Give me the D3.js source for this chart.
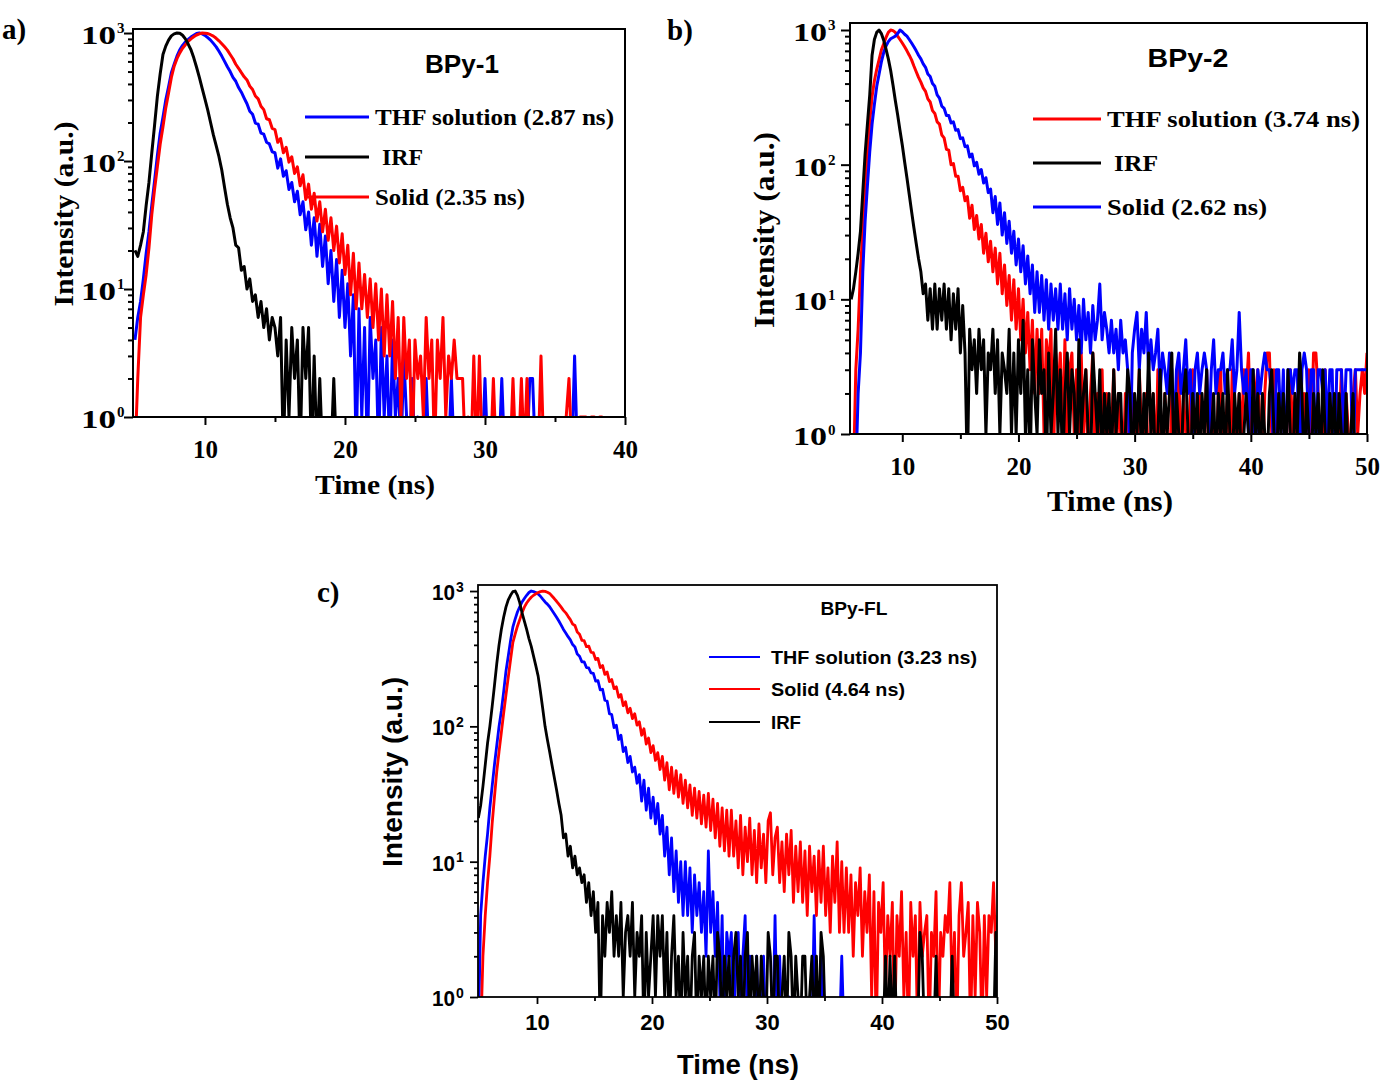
<!DOCTYPE html>
<html>
<head>
<meta charset="utf-8">
<title>Fluorescence decay of BPy-1, BPy-2 and BPy-FL</title>
<script src="https://cdn.jsdelivr.net/npm/d3@7"></script>
<style>
  body { margin: 0; background: #fff; }
  svg { display: block; }
</style>
</head>
<body>
<svg id="chart" width="1385" height="1082"></svg>
<script>
// photon counts, one value per 0.2 ns channel
var channelWidth = 0.2;

// a) BPy-1, first channel at 5.0 ns (one row = 2 ns)
var bpy1Start = 5.0;
var bpy1Thf = [
  4, 6, 8, 12, 19, 28, 45, 70, 110, 165,
  220, 300, 380, 490, 570, 660, 740, 800, 850, 890,
  930, 960, 990, 1000, 985, 960, 920, 880, 830, 780,
  720, 660, 600, 545, 500, 450, 420, 375, 345, 310,
  280, 245, 232, 198, 194, 165, 162, 140, 136, 118,
  116, 88, 104, 76, 84, 60, 68, 48, 58, 38,
  48, 29, 40, 22, 36, 18, 32, 15, 26, 11,
  20, 8, 17, 6, 14, 5, 11, 3, 9, 0,
  7, 1, 5, 0, 6, 2, 4, 0, 5, 1,
  3, 0, 4, 1, 2, 0, 3, 1, 0, 2,
  0, 1, 0, 0, 2, 0, 0, 1, 0, 0,
  0, 0, 0, 2, 0, 0, 0, 0, 0, 0,
  0, 0, 0, 0, 0, 2, 0, 0, 0, 0,
  0, 2, 0, 0, 0, 0, 0, 0, 0, 0,
  0, 2, 2, 0, 0, 0, 0, 0, 0, 0,
  0, 0, 0, 0, 0, 0, 0, 3, 0, 0,
  0, 0, 0, 0, 0, 0, 0, 0
];
var bpy1Solid = [
  0, 2, 6, 9, 13, 21, 38, 60, 90, 135,
  185, 260, 340, 450, 550, 630, 700, 760, 810, 860,
  900, 935, 965, 985, 1000, 995, 990, 970, 945, 910,
  870, 825, 780, 735, 680, 630, 570, 530, 490, 455,
  430, 385, 362, 322, 306, 268, 252, 214, 210, 180,
  176, 140, 150, 116, 128, 98, 108, 80, 90, 64,
  78, 50, 66, 42, 56, 34, 48, 28, 42, 24,
  36, 20, 31, 16, 27, 13, 22, 9, 19, 7,
  16, 7, 13, 6, 12, 5, 11, 4, 10, 3,
  9, 3, 8, 2, 6, 1, 6, 2, 4, 0,
  4, 2, 3, 1, 6, 2, 4, 0, 4, 2,
  6, 1, 3, 2, 4, 2, 2, 2, 0, 1,
  0, 3, 0, 3, 0, 1, 0, 0, 2, 0,
  0, 1, 0, 0, 0, 2, 0, 0, 2, 0,
  2, 0, 0, 0, 0, 3, 0, 0, 0, 0,
  0, 0, 0, 0, 1, 2, 0, 0, 0, 1,
  1, 1, 0, 1, 1, 0, 1, 1
];
var bpy1Irf = [
  20, 18, 22, 28, 45, 68, 115, 190, 320, 480,
  680, 790, 880, 950, 985, 1000, 995, 960, 900, 820,
  740, 640, 540, 450, 370, 305, 250, 200, 160, 132,
  108, 85, 62, 46, 36, 30, 22, 21, 14, 15,
  10, 12, 8, 9, 6, 8, 5, 7, 4, 6,
  5, 3, 6, 0, 4, 1, 5, 2, 4, 0,
  5, 2, 5, 0, 3, 0, 2, 0, 0, 0,
  0, 2, 0
];

// b) BPy-2, first channel at 5.6 ns
var bpy2Start = 5.6;
var bpy2Thf = [
  0, 0, 3, 6, 16, 33, 70, 122, 210, 320,
  420, 510, 600, 710, 790, 880, 960, 1000, 990, 960,
  900, 850, 800, 750, 700, 650, 600, 540, 490, 445,
  410, 372, 350, 308, 292, 252, 240, 208, 200, 166,
  158, 130, 128, 100, 102, 82, 82, 64, 68, 54,
  58, 40, 50, 33, 42, 28, 36, 22, 31, 19,
  27, 16, 24, 13, 22, 11, 18, 9, 15, 7,
  14, 6, 12, 5, 10, 4, 8, 3, 7, 2,
  6, 2, 6, 1, 5, 3, 6, 0, 4, 2,
  4, 1, 5, 0, 3, 4, 1, 3, 0, 4,
  1, 3, 0, 2, 4, 0, 2, 1, 3, 0,
  2, 0, 1, 3, 0, 2, 1, 0, 2, 1,
  0, 2, 1, 0, 3, 1, 0, 2, 0, 1,
  2, 0, 3, 1, 0, 2, 1, 0, 2, 0,
  1, 3, 0, 2, 1, 0, 2, 3, 0, 1,
  2, 0, 1, 3, 0, 2, 1, 0, 2, 3,
  0, 1, 2, 0, 3, 1, 0, 2, 1, 3,
  2, 4, 1, 0, 2, 3, 1, 0, 2, 4,
  4, 1, 3, 0, 2, 1, 0, 0, 2, 3,
  1, 2, 0, 3, 1, 2, 0, 3, 1, 4,
  4, 2, 0, 1, 3, 0, 2, 0, 0, 2,
  1, 3, 0, 2, 1, 0, 2, 3, 1, 2,
  3, 2, 4
];
var bpy2Solid = [
  0, 0, 0, 2, 4, 16, 38, 70, 125, 200,
  280, 380, 470, 580, 680, 760, 820, 860, 880, 900,
  940, 1000, 970, 930, 900, 850, 800, 750, 700, 650,
  610, 560, 528, 472, 452, 400, 382, 330, 312, 272,
  262, 232, 232, 204, 208, 180, 182, 156, 158, 136,
  138, 114, 120, 98, 104, 85, 92, 73, 80, 62,
  66, 44, 58, 36, 52, 30, 44, 26, 38, 22,
  32, 18, 28, 16, 25, 13, 21, 11, 18, 8,
  16, 8, 15, 7, 14, 6, 13, 7, 12, 6,
  13, 6, 11, 5, 12, 6, 10, 5, 9, 4,
  10, 5, 8, 4, 9, 5, 7, 13, 5, 8,
  6, 4, 7, 4, 6, 3, 7, 4, 5, 3,
  0, 4, 6, 8, 3, 6, 4, 8, 3, 5,
  3, 4, 6, 2, 4, 3, 2, 4, 3, 1,
  3, 4, 2, 3, 5, 2, 3, 1, 3, 4,
  2, 3, 4, 3, 1, 3, 5, 2, 3, 3,
  4, 2, 3, 3, 5, 2, 3, 8, 3, 2,
  3, 1, 3, 3, 0, 3, 2, 3, 4, 3,
  3, 2, 0, 3, 3, 1, 3, 0, 3, 3,
  2, 3, 3, 0, 3, 4, 3, 1, 3, 3,
  0, 3, 3, 2, 3, 1, 3, 3, 0, 3,
  3, 3, 1, 3, 3, 3, 0, 3, 3, 3,
  3, 3, 3
];
var bpy2Irf = [
  10, 12, 16, 22, 32, 62, 120, 200, 330, 650,
  850, 960, 1000, 940, 840, 720, 610, 500, 390, 300,
  235, 180, 140, 105, 80, 60, 45, 34, 26, 20,
  16, 11, 13, 7, 12, 6, 13, 6, 12, 7,
  13, 6, 12, 5, 11, 6, 12, 4, 9, 4,
  0, 6, 3, 5, 2, 6, 3, 5, 1, 4,
  3, 6, 2, 5, 1, 4, 3, 2, 6, 1,
  4, 1, 5, 2, 7, 1, 3, 0, 5, 2,
  1, 5, 2, 3, 0, 4, 1, 2, 6, 1,
  3, 0, 2, 4, 1, 3, 2, 0, 5, 1,
  2, 3, 1, 0, 4, 2, 1, 3, 0, 2,
  1, 2, 0, 3, 1, 2, 2, 0, 1, 3,
  2, 0, 2, 1, 3, 0, 2, 1, 4, 1,
  2, 0, 1, 3, 0, 2, 1, 2, 4, 0,
  2, 1, 0, 2, 3, 1, 0, 2, 1, 2,
  0, 2, 1, 3, 0, 1, 2, 0, 2, 1,
  2, 0, 3, 1, 0, 2, 1, 2, 0, 1,
  2, 1, 0, 3, 1, 2, 0, 2, 1, 0,
  2, 3, 1, 0, 2, 1, 2, 0, 3, 1,
  0, 2, 1, 4, 2, 0, 2, 1, 0, 2,
  1, 2, 0, 3, 1, 0, 2, 1, 2, 0,
  2, 1, 0, 2, 0, 1, 2, 0, 1, 0
];

// c) BPy-FL, first channel at 4.9 ns
var bpyFlStart = 4.9;
var bpyFlThf = [
  0, 4, 7, 11, 16, 25, 36, 52, 72, 100,
  130, 180, 255, 330, 430, 540, 620, 700, 765, 830,
  880, 930, 975, 1000, 990, 975, 950, 915, 870, 830,
  800, 765, 720, 680, 640, 600, 560, 520, 490, 460,
  436, 402, 386, 342, 330, 300, 300, 272, 270, 248,
  246, 216, 218, 186, 188, 156, 154, 124, 122, 98,
  102, 80, 86, 65, 70, 54, 60, 46, 50, 38,
  44, 28, 40, 24, 35, 21, 30, 19, 27, 16,
  22, 11, 18, 8, 15, 6, 12, 5, 10, 4,
  10, 4, 9, 3, 8, 4, 7, 3, 6, 2,
  12, 3, 6, 2, 5, 1, 4, 0, 3, 2,
  3, 0, 2, 3, 0, 2, 4, 0, 2, 0,
  0, 2, 0, 0, 2, 0, 0, 0, 0, 4,
  0, 2, 0, 0, 0, 1, 0, 0, 0, 0,
  0, 0, 0, 0, 0, 0, 4, 0, 0, 2,
  0, 0, 0, 0, 0, 0, 0, 0, 2, 0
];
var bpyFlSolid = [
  0, 0, 2, 4, 7, 11, 19, 30, 46, 65,
  90, 125, 170, 230, 310, 415, 480, 550, 615, 690,
  760, 815, 860, 900, 930, 955, 975, 990, 1000, 995,
  980, 960, 920, 880, 840, 800, 760, 720, 690, 650,
  615, 570, 556, 498, 480, 432, 430, 388, 392, 352,
  350, 312, 318, 272, 282, 242, 252, 214, 222, 190,
  196, 164, 172, 142, 152, 126, 136, 114, 124, 102,
  108, 86, 96, 74, 82, 64, 72, 56, 64, 48,
  60, 40, 54, 34, 50, 32, 47, 30, 44, 27,
  40, 25, 37, 22, 35, 21, 33, 19, 31, 18,
  32, 17, 29, 15, 27, 13, 25, 12, 24, 11,
  24, 11, 20, 9, 22, 8, 18, 10, 21, 8,
  17, 7, 19, 9, 16, 7, 20, 23, 8, 15,
  18, 7, 14, 6, 16, 8, 17, 5, 13, 6,
  14, 5, 12, 4, 13, 6, 11, 4, 12, 5,
  13, 4, 9, 3, 11, 5, 14, 3, 10, 3,
  9, 3, 8, 2, 7, 4, 9, 2, 6, 3,
  8, 1, 6, 0, 5, 3, 7, 1, 4, 2,
  5, 0, 4, 2, 6, 1, 3, 0, 5, 2,
  4, 0, 5, 2, 3, 4, 0, 3, 2, 6,
  0, 3, 2, 4, 3, 7, 1, 3, 0, 4,
  7, 2, 3, 5, 0, 4, 1, 5, 3, 0,
  4, 1, 4, 3, 7, 2, 4
];
var bpyFlIrf = [
  21, 26, 36, 52, 75, 100, 140, 200, 290, 400,
  520, 640, 760, 860, 930, 990, 1000, 930, 820, 690,
  600, 520, 445, 390, 330, 280, 235, 180, 135, 100,
  80, 65, 52, 42, 34, 27, 22, 15, 16, 11,
  13, 9, 11, 8, 9, 7, 8, 5, 7, 4,
  6, 3, 5, 0, 4, 2, 5, 3, 6, 2,
  4, 2, 5, 1, 3, 4, 2, 5, 1, 3,
  2, 4, 0, 3, 1, 2, 4, 1, 4, 2,
  4, 1, 3, 0, 2, 4, 1, 2, 0, 3,
  1, 2, 0, 2, 3, 0, 2, 1, 2, 0,
  2, 1, 2, 0, 3, 2, 0, 2, 1, 2,
  0, 2, 3, 1, 2, 0, 2, 3, 0, 2,
  1, 2, 0, 2, 1, 0, 3, 2, 0, 2,
  2, 0, 1, 2, 0, 3, 2, 0, 2, 1,
  0, 2, 2, 0, 1, 2, 0, 2, 0, 3,
  2, 0, 0, 0, 0, 0, 0, 0, 0, 0,
  0, 0, 0, 0, 0, 0, 0, 0, 0, 0,
  0, 0, 0, 0, 0, 0, 0, 2, 0, 2,
  0, 2, 0, 0, 0, 0, 0, 0, 0, 0,
  0, 0, 3, 2, 0, 0, 0, 0, 0, 2,
  0, 0, 0, 0, 0, 0, 2, 0, 0, 0,
  0, 0, 0, 0, 0, 0, 0, 0, 0, 0,
  0, 0, 0, 0, 0, 3, 0
];

// axis ticks and labels
var decades = [1, 10, 100, 1000];
var decadeExponents = ["0", "1", "2", "3"];
var timeTicksA = [10, 20, 30, 40];
var timeMinorA = [15, 25, 35];
var timeTicksBC = [10, 20, 30, 40, 50];
var timeMinorBC = [15, 25, 35, 45];
var legendA = ["THF solution (2.87 ns)", "IRF", "Solid (2.35 ns)"];
var legendB = ["THF solution (3.74 ns)", "IRF", "Solid (2.62 ns)"];
var legendC = ["THF solution (3.23 ns)", "Solid (4.64 ns)", "IRF"];

var serif = "'Liberation Serif', 'Times New Roman', serif";
var sans = "'Liberation Sans', Arial, sans-serif";
var BLUE = "#0000ff", RED = "#ff0000", BLACK = "#000000";

var panels = [
  {
    tag: "a)", tagX: 2, tagY: 29,
    left: 133, right: 625, top: 29, bottom: 417,
    tMin: 4.86, tMax: 40, yTop: 1075,
    ticks: timeTicksA, minor: timeMinorA,
    font: serif, tickFont: 25, tickPad: 15.7, tickLen: 8, minorLen: 5, axisWidth: 2,
    yLab: { gap: 17, width: 35, size: 25, dy: 2, supSize: 15, supDy: -6 },
    yTitle: { x: 63, y: 214, size: 28, len: 185 },
    xTitle: { x: 375, y: 484, size: 28, len: 120 },
    lineWidth: 3, start: bpy1Start,
    series: [
      { values: bpy1Thf, color: BLUE },
      { values: bpy1Solid, color: RED },
      { values: bpy1Irf, color: BLACK }
    ],
    title: { text: "BPy-1", x: 462, y: 64, size: 25, len: 74 },
    legend: {
      x0: 305, x1: 369, font: serif, size: 23, stroke: 3,
      rows: [
        { text: legendA[0], color: BLUE, y: 117, tx: 375, len: 239 },
        { text: legendA[1], color: BLACK, y: 157, tx: 382, len: 41 },
        { text: legendA[2], color: RED, y: 197, tx: 375, len: 150 }
      ]
    }
  },
  {
    tag: "b)", tagX: 667, tagY: 30,
    left: 850, right: 1367, top: 23, bottom: 434,
    tMin: 5.5, tMax: 50, yTop: 1127,
    ticks: timeTicksBC, minor: timeMinorBC,
    font: serif, tickFont: 25, tickPad: 15.7, tickLen: 8, minorLen: 5, axisWidth: 2,
    yLab: { gap: 23, width: 34, size: 26, dy: 2, supSize: 15, supDy: -5 },
    yTitle: { x: 764, y: 230, size: 29, len: 196 },
    xTitle: { x: 1110, y: 501, size: 29, len: 126 },
    lineWidth: 3, start: bpy2Start,
    series: [
      { values: bpy2Thf, color: RED },
      { values: bpy2Solid, color: BLUE },
      { values: bpy2Irf, color: BLACK }
    ],
    title: { text: "BPy-2", x: 1188, y: 58, size: 25, len: 81 },
    legend: {
      x0: 1033, x1: 1101, font: serif, size: 24, stroke: 3,
      rows: [
        { text: legendB[0], color: RED, y: 119, tx: 1107, len: 253 },
        { text: legendB[1], color: BLACK, y: 163, tx: 1114, len: 44 },
        { text: legendB[2], color: BLUE, y: 207, tx: 1107, len: 160 }
      ]
    }
  },
  {
    tag: "c)", tagX: 317, tagY: 592,
    left: 478, right: 997, top: 585, bottom: 997,
    tMin: 4.87, tMax: 50, yTop: 1108,
    ticks: timeTicksBC, minor: timeMinorBC,
    font: sans, tickFont: 22, tickPad: 10.3, tickLen: 7, minorLen: 4, axisWidth: 1.8,
    yLab: { gap: 23, width: 23, size: 22, dy: 1, supSize: 14, supDy: -5 },
    yTitle: { x: 393, y: 772, size: 27, len: 190 },
    xTitle: { x: 738, y: 1065, size: 27, len: 122 },
    lineWidth: 2.8, start: bpyFlStart,
    series: [
      { values: bpyFlThf, color: BLUE },
      { values: bpyFlSolid, color: RED },
      { values: bpyFlIrf, color: BLACK }
    ],
    title: { text: "BPy-FL", x: 854, y: 608, size: 19, len: 67 },
    legend: {
      x0: 709, x1: 760, font: sans, size: 19, stroke: 2.2,
      rows: [
        { text: legendC[0], color: BLUE, y: 657, tx: 771, len: 206 },
        { text: legendC[1], color: RED, y: 689, tx: 771, len: 134 },
        { text: legendC[2], color: BLACK, y: 722, tx: 771, len: 30 }
      ]
    }
  }
];

var svg = d3.select("#chart");

// minor log ticks 2..9 inside each decade
var minorDecadeTicks = [];
decades.slice(0, 3).forEach(function (d) {
  for (var k = 2; k <= 9; k++) minorDecadeTicks.push(d * k);
});

panels.forEach(function (p, pi) {
  var x = d3.scaleLinear().domain([p.tMin, p.tMax]).range([p.left, p.right]);
  var y = d3.scaleLog().domain([1, p.yTop]).range([p.bottom, p.top]);
  var g = svg.append("g");

  var clipId = "plot-clip-" + pi;
  svg.append("defs").append("clipPath").attr("id", clipId)
    .append("rect")
    .attr("x", p.left).attr("y", p.top)
    .attr("width", p.right - p.left).attr("height", p.bottom - p.top);

  // zero counts fall below the 10^0 axis and are clipped away
  var line = d3.line()
    .x(function (d) { return x(d[0]); })
    .y(function (d) { return y(Math.max(d[1], 0.5)); });

  p.series.forEach(function (s) {
    var pts = s.values.map(function (v, i) { return [p.start + i * channelWidth, v]; });
    g.append("path")
      .datum(pts)
      .attr("clip-path", "url(#" + clipId + ")")
      .attr("fill", "none")
      .attr("stroke", s.color)
      .attr("stroke-width", p.lineWidth)
      .attr("stroke-linejoin", "round")
      .attr("d", line);
  });

  // x axis
  var xAxis = g.append("g")
    .attr("transform", "translate(0," + p.bottom + ")")
    .call(d3.axisBottom(x).tickValues(p.ticks).tickSize(p.tickLen)
      .tickPadding(p.tickPad).tickFormat(d3.format("d")));
  xAxis.attr("font-family", p.font).attr("font-size", p.tickFont).attr("font-weight", "bold");
  g.append("g")
    .attr("transform", "translate(0," + p.bottom + ")")
    .call(d3.axisBottom(x).tickValues(p.minor).tickSize(p.minorLen).tickFormat(""));

  // y axis (log)
  var yAxis = g.append("g")
    .attr("transform", "translate(" + p.left + ",0)")
    .call(d3.axisLeft(y).tickValues(decades).tickSize(p.tickLen + 1).tickFormat(""));
  g.append("g")
    .attr("transform", "translate(" + p.left + ",0)")
    .call(d3.axisLeft(y).tickValues(minorDecadeTicks).tickSize(p.minorLen).tickFormat(""));

  g.selectAll(".domain").remove();
  g.selectAll(".tick line").attr("stroke", "#000").attr("stroke-width", p.axisWidth);
  xAxis.selectAll("text").attr("fill", "#000");

  // "10" plus a raised exponent beside each decade tick
  yAxis.selectAll(".tick").each(function (d) {
    var t = d3.select(this);
    t.append("text")
      .attr("x", -p.yLab.gap - p.yLab.width).attr("y", p.yLab.dy)
      .attr("text-anchor", "start").attr("dominant-baseline", "central")
      .attr("font-family", p.font).attr("font-weight", "bold")
      .attr("font-size", p.yLab.size)
      .attr("textLength", p.yLab.width).attr("lengthAdjust", "spacingAndGlyphs")
      .attr("fill", "#000")
      .text("10");
    t.append("text")
      .attr("x", -p.yLab.gap + 1).attr("y", p.yLab.supDy)
      .attr("text-anchor", "start").attr("dominant-baseline", "central")
      .attr("font-family", p.font).attr("font-weight", "bold")
      .attr("font-size", p.yLab.supSize)
      .attr("fill", "#000")
      .text(decadeExponents[decades.indexOf(d)]);
  });

  // frame
  g.append("rect")
    .attr("x", p.left).attr("y", p.top)
    .attr("width", p.right - p.left).attr("height", p.bottom - p.top)
    .attr("fill", "none").attr("stroke", "#000").attr("stroke-width", p.axisWidth);

  // axis titles
  g.append("text")
    .attr("transform", "translate(" + p.yTitle.x + "," + (p.yTitle.y + p.yTitle.len / 2) + ") rotate(-90)")
    .attr("dominant-baseline", "central")
    .attr("font-family", p.font).attr("font-weight", "bold").attr("font-size", p.yTitle.size)
    .attr("textLength", p.yTitle.len).attr("lengthAdjust", "spacingAndGlyphs")
    .text("Intensity (a.u.)");
  g.append("text")
    .attr("x", p.xTitle.x - p.xTitle.len / 2).attr("y", p.xTitle.y)
    .attr("dominant-baseline", "central")
    .attr("font-family", p.font).attr("font-weight", "bold").attr("font-size", p.xTitle.size)
    .attr("textLength", p.xTitle.len).attr("lengthAdjust", "spacingAndGlyphs")
    .text("Time (ns)");

  // panel tag
  g.append("text")
    .attr("x", p.tagX).attr("y", p.tagY)
    .attr("dominant-baseline", "central")
    .attr("font-family", serif).attr("font-weight", "bold").attr("font-size", 29)
    .text(p.tag);

  // sample name
  g.append("text")
    .attr("x", p.title.x - p.title.len / 2).attr("y", p.title.y)
    .attr("dominant-baseline", "central")
    .attr("font-family", sans).attr("font-weight", "bold").attr("font-size", p.title.size)
    .attr("textLength", p.title.len).attr("lengthAdjust", "spacingAndGlyphs")
    .text(p.title.text);

  // legend
  var lg = p.legend;
  var rows = g.selectAll(".legend-row-" + pi)
    .data(lg.rows)
    .enter().append("g");
  rows.append("line")
    .attr("x1", lg.x0).attr("x2", lg.x1)
    .attr("y1", function (d) { return d.y; }).attr("y2", function (d) { return d.y; })
    .attr("stroke", function (d) { return d.color; })
    .attr("stroke-width", lg.stroke);
  rows.append("text")
    .attr("x", function (d) { return d.tx; })
    .attr("y", function (d) { return d.y; })
    .attr("dominant-baseline", "central")
    .attr("font-family", lg.font).attr("font-weight", "bold").attr("font-size", lg.size)
    .attr("textLength", function (d) { return d.len; }).attr("lengthAdjust", "spacingAndGlyphs")
    .text(function (d) { return d.text; });
});
</script>
</body>
</html>
